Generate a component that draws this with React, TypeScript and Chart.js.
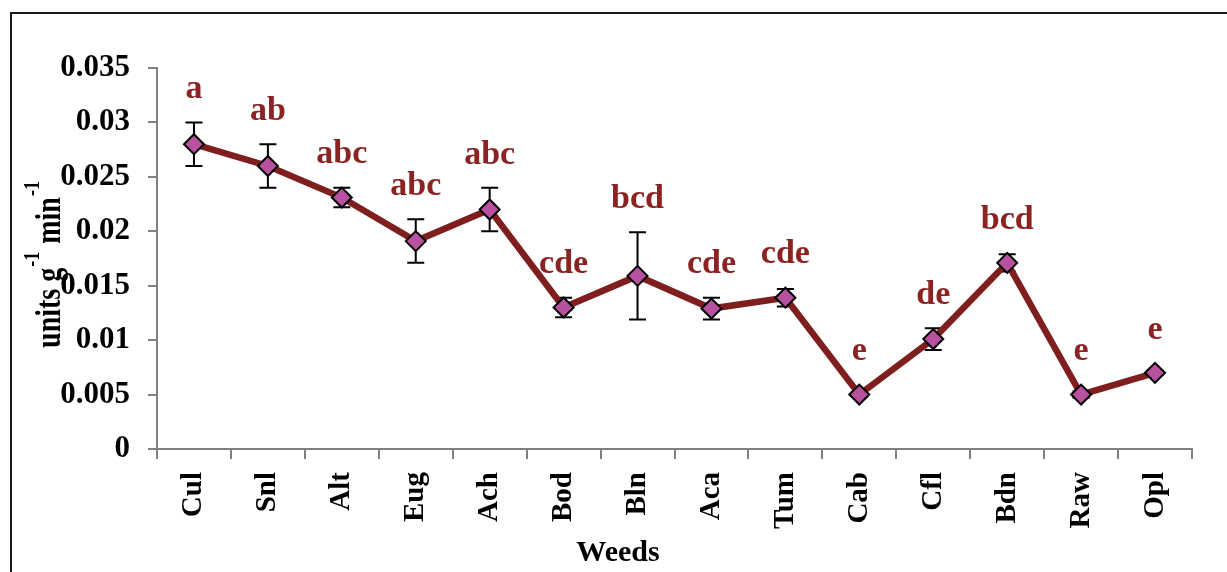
import React, { useEffect, useRef } from "react";
import { Chart, registerables } from "chart.js";

Chart.register(...registerables);

const categories = ["Cul", "Snl", "Alt", "Eug", "Ach", "Bod", "Bln", "Aca", "Tum", "Cab", "Cfl", "Bdn", "Raw", "Opl"];
const means = [0.028, 0.026, 0.0231, 0.0191, 0.022, 0.013, 0.0159, 0.0129, 0.0139, 0.005, 0.0101, 0.0171, 0.005, 0.007];
const errors = [0.002, 0.002, 0.0009, 0.002, 0.002, 0.0009, 0.004, 0.001, 0.0008, 0.0002, 0.001, 0.0008, 0.0003, 0.0002];
const letters = ["a", "ab", "abc", "abc", "abc", "cde", "bcd", "cde", "cde", "e", "de", "bcd", "e", "e"];
const yMin = 0;
const yMax = 0.035;
const yStep = 0.005;
const xTitle = "Weeds";

const FONT = "'Liberation Serif', 'Times New Roman', serif";

const overlayPlugin = {
  id: "overlay",
  beforeDatasetsDraw(chart: any) {
    const ctx = chart.ctx;
    const xs = chart.scales.x;
    const ys = chart.scales.y;
    ctx.save();
    ctx.strokeStyle = "#000";
    ctx.lineWidth = 2;
    means.forEach((m, i) => {
      const x = xs.getPixelForValue(i);
      const yt = ys.getPixelForValue(m + errors[i]);
      const yb = ys.getPixelForValue(m - errors[i]);
      ctx.beginPath();
      ctx.moveTo(x, yt);
      ctx.lineTo(x, yb);
      ctx.moveTo(x - 8.5, yt);
      ctx.lineTo(x + 8.5, yt);
      ctx.moveTo(x - 8.5, yb);
      ctx.lineTo(x + 8.5, yb);
      ctx.stroke();
    });
    ctx.restore();
  },
  afterDraw(chart: any) {
    const ctx = chart.ctx;
    const xs = chart.scales.x;
    const ys = chart.scales.y;
    ctx.save();
    // frame
    ctx.strokeStyle = "#1a1a1a";
    ctx.lineWidth = 2;
    ctx.strokeRect(11, 13, 1240, 600);

    // significance letters
    ctx.fillStyle = "#8B2323";
    ctx.font = `bold 34px ${FONT}`;
    ctx.textAlign = "center";
    ctx.textBaseline = "middle";
    letters.forEach((t, i) => {
      const x = xs.getPixelForValue(i);
      const top = Math.min(ys.getPixelForValue(means[i] + errors[i]), ys.getPixelForValue(means[i]) - 10);
      ctx.fillText(t, x, top - 33);
    });

    // x title
    ctx.fillStyle = "#000";
    ctx.font = `bold 30px ${FONT}`;
    ctx.fillText(xTitle, 618, 553);

    // y title with superscripts
    const segs: [string, boolean][] = [["units g", false], ["-1", true], [" min", false], ["-1", true]];
    const mainF = `bold 28px ${FONT}`;
    const supF = `bold 18px ${FONT}`;
    let total = 0;
    const widths = segs.map(([s, sup]) => {
      ctx.font = sup ? supF : mainF;
      const w = ctx.measureText(s).width + (sup ? 2 : 0);
      total += w;
      return w;
    });
    ctx.translate(60, 264);
    ctx.scale(1.3, 1);
    ctx.rotate(-Math.PI / 2);
    ctx.textAlign = "left";
    ctx.textBaseline = "alphabetic";
    let pos = -total / 2;
    segs.forEach(([s, sup], k) => {
      ctx.font = sup ? supF : mainF;
      ctx.fillText(s, pos + (sup ? 1 : 0), sup ? -16 : 0);
      pos += widths[k];
    });
    ctx.restore();
  },
};

export default function App() {
  const ref = useRef<HTMLCanvasElement>(null);
  useEffect(() => {
    if (!ref.current) return;
    const chart = new Chart(ref.current, {
      type: "line",
      data: {
        labels: categories,
        datasets: [
          {
            data: means,
            borderColor: "#7F1E1E",
            borderWidth: 6.5,
            pointStyle: "rectRot",
            pointRadius: 10,
            pointHoverRadius: 10,
            pointBackgroundColor: "#B8519F",
            pointBorderColor: "#000",
            pointBorderWidth: 2,
            tension: 0,
            fill: false,
          },
        ],
      },
      options: {
        responsive: false,
        animation: false,
        layout: { padding: { left: 0, top: 68, right: 35, bottom: 0 } },
        plugins: { legend: { display: false }, tooltip: { enabled: false }, title: { display: false } },
        scales: {
          x: {
            type: "category",
            offset: true,
            grid: { offset: true, drawOnChartArea: false, drawTicks: true, tickLength: 10, color: "#808080", lineWidth: 2 },
            border: { display: true, color: "#808080", width: 2 },
            ticks: {
              color: "#000",
              font: { family: FONT, size: 29, weight: "bold" },
              minRotation: 90,
              maxRotation: 90,
              padding: 13,
              autoSkip: false,
            },
            afterFit: (s: any) => {
              s.height = 123;
            },
          },
          y: {
            min: yMin,
            max: yMax,
            grid: { drawOnChartArea: false, drawTicks: true, tickLength: 9, color: "#808080", lineWidth: 2 },
            border: { display: true, color: "#808080", width: 2 },
            ticks: {
              stepSize: yStep,
              color: "#000",
              padding: 18,
              font: { family: FONT, size: 31, weight: "bold" },
              callback: (v: any) => String(Number(Number(v).toFixed(3))),
            },
            afterFit: (s: any) => {
              s.width = 157;
            },
          },
        },
      },
      plugins: [overlayPlugin],
    });
    return () => chart.destroy();
  }, []);
  return (
    <div style={{ position: "fixed", left: 0, top: 0, width: 1227, height: 572, background: "#fff" }}>
      <canvas ref={ref} width={1227} height={572} style={{ display: "block", width: 1227, height: 572 }} />
    </div>
  );
}
